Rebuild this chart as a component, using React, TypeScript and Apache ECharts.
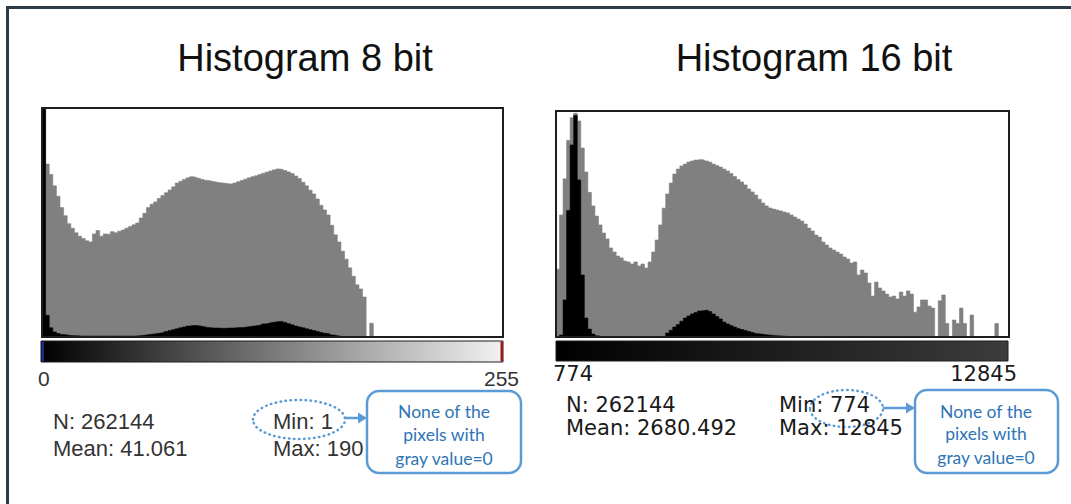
import React, { useEffect, useRef } from "react";
import * as echarts from "echarts";

// ---- data (bar heights in % of plot height, 128 bins each) ----
const LEFT_GRAY = [
  100, 75.5, 71, 66, 61.5, 56.5, 53, 49.5, 47.5, 45.5,
  44, 43, 42, 41.5, 45, 46.5, 44, 45, 44.8, 46,
  45.5, 46.2, 46.7, 47.5, 48.2, 49, 49.8, 52, 54, 56.5,
  58, 59, 60.5, 61.8, 63, 64.2, 65.6, 67.2, 68, 68.8,
  69.5, 70, 69.7, 69.3, 68.8, 68.4, 68.1, 67.8, 67.5, 67.3,
  67.1, 66.9, 66.7, 67.2, 67.8, 68.3, 68.9, 69.5, 70, 70.4,
  71, 71.5, 72, 72.5, 73, 73.4, 73.1, 72.7, 72.1, 71.4,
  70.3, 69.2, 67.6, 66, 64.1, 62.5, 60.3, 57.5, 55.5, 53.3,
  48.8, 44.6, 41.5, 37.5, 34, 30.2, 26.5, 22.8, 21, 17.5,
  0, 6, 0, 0, 0, 0, 0, 0, 0, 0,
  0, 0, 0, 0, 0, 0, 0, 0, 0, 0,
  0, 0, 0, 0, 0, 0, 0, 0, 0, 0,
  0, 0, 0, 0, 0, 0, 0, 0,
];
const LEFT_BLACK = [
  100, 9.5, 4, 2.2, 1.5, 1.1, 0.9, 0.7, 0.6, 0.5,
  0.4, 0.4, 0.4, 0.4, 0.4, 0.4, 0.4, 0.4, 0.4, 0.4,
  0.4, 0.4, 0.4, 0.4, 0.4, 0.4, 0.5, 0.7, 0.9, 1.1,
  1.3, 1.5, 1.7, 2, 2.4, 2.8, 3.2, 3.6, 4, 4.4,
  4.8, 5, 5, 4.8, 4.5, 4.2, 4, 3.9, 3.9, 3.8,
  3.8, 3.9, 3.9, 4, 4.1, 4.2, 4.4, 4.6, 4.8, 5,
  5.3, 5.7, 6, 6.3, 6.6, 6.8, 6.7, 6.3, 5.8, 5.3,
  4.8, 4.4, 4, 3.6, 3.2, 2.8, 2.4, 2, 1.6, 1.3,
  0.9, 0.6, 0.3, 0.1, 0, 0, 0, 0, 0, 0,
  0, 0, 0, 0, 0, 0, 0, 0, 0, 0,
  0, 0, 0, 0, 0, 0, 0, 0, 0, 0,
  0, 0, 0, 0, 0, 0, 0, 0, 0, 0,
  0, 0, 0, 0, 0, 0, 0, 0,
];
const RIGHT_GRAY = [
  30, 54, 70, 87, 97, 99, 95.6, 83.6, 73, 64,
  58, 53.5, 49.6, 46, 43.4, 39.4, 37.6, 35.8, 35, 33.6,
  33.2, 32.3, 33.2, 31.4, 32.3, 30.5, 33.2, 37.6, 42.9, 49.6,
  57, 63.3, 68.1, 72.1, 74.3, 75.7, 76.5, 77.4, 77.9, 78.3,
  78.5, 78.3, 77.9, 77.4, 76.5, 75.9, 75.2, 74.3, 73.5, 72.3,
  71, 69.7, 68.6, 67.3, 65.5, 64.2, 62.8, 61, 59.3, 58,
  57.1, 56.6, 56.2, 55.8, 55.3, 54.9, 54, 53.1, 52.2, 51.3,
  50, 48.2, 46.9, 45.1, 44.2, 42, 40.7, 39.4, 38.5, 37.6,
  36.7, 35.4, 34.5, 32.7, 33.2, 27.4, 29.6, 28.3, 23.9, 18.1,
  24.3, 21.7, 20.4, 19, 17.7, 18.1, 16.8, 19.9, 18.1, 20.4,
  19, 11, 13.3, 16.4, 16.4, 13.7, 12.8, 0, 16, 18.6,
  6, 0, 7.5, 6, 12.8, 6, 0, 9.7, 0, 0,
  0, 0, 0, 0, 6, 0, 0, 0,
];
const RIGHT_BLACK = [
  0, 0.9, 16.4, 56, 85, 98, 69.5, 27.4, 8.4, 3.5,
  1.3, 0.5, 0.2, 0, 0, 0, 0, 0, 0, 0,
  0, 0, 0, 0, 0, 0, 0, 0, 0, 0,
  0.3, 1.8, 3, 4.4, 5.5, 7, 8.4, 9.3, 10.2, 10.8,
  11.5, 11.7, 11.9, 11.3, 10.2, 9.1, 8, 6.6, 5.8, 5.1,
  4.4, 3.8, 3.3, 2.9, 2.4, 2, 1.5, 1.3, 1.1, 0.9,
  0.8, 0.6, 0.5, 0.4, 0.3, 0.2, 0, 0, 0, 0,
  0, 0, 0, 0, 0, 0, 0, 0, 0, 0,
  0, 0, 0, 0, 0, 0, 0, 0, 0, 0,
  0, 0, 0, 0, 0, 0, 0, 0, 0, 0,
  0, 0, 0, 0, 0, 0, 0, 0, 0, 0,
  0, 0, 0, 0, 0, 0, 0, 0, 0, 0,
  0, 0, 0, 0, 0, 0, 0, 0,
];

const TITLES = ["Histogram 8 bit", "Histogram 16 bit"];
const LEFT_RANGE = ["0", "255"];
const RIGHT_RANGE = ["774", "12845"];
const LEFT_STATS = ["N: 262144", "Mean: 41.061", "Min: 1", "Max: 190"];
const RIGHT_STATS = ["N: 262144", "Mean: 2680.492", "Min: 774", "Max: 12845"];
const NOTE_LINES = ["None of the", "pixels with", "gray value=0"];

const BLUE = "#5b9bd5";
const NOTE_TEXT = "#2e75b6";

export default function App() {
  const ref = useRef<HTMLDivElement>(null);

  useEffect(() => {
    document.body.style.margin = "0";
    const chart = echarts.init(ref.current!, null, { renderer: "svg" });

    const arial = '"Liberation Sans", Arial, sans-serif';
    const dejavu = '"DejaVu Sans", Verdana, sans-serif';
    const lato = 'Lato, "Open Sans", sans-serif';

    const txt = (text: string, x: number, y: number, size: number, family: string, fill: string, align = "left") => ({
      type: "text",
      x,
      y,
      z: 100,
      silent: true,
      style: { text, fontSize: size, fontFamily: family, fill, textAlign: align, textVerticalAlign: "middle" },
    });

    const frame = (x: number, y: number, w: number, h: number) => ({
      type: "rect",
      z: 60,
      silent: true,
      shape: { x, y, width: w, height: h },
      style: { fill: "transparent", stroke: "#1e1e1e", lineWidth: 2 },
    });

    const note = (x: number, y: number, w: number, h: number, cx: number, ys: number[]) => [
      {
        type: "rect",
        z: 90,
        silent: true,
        shape: { x, y, width: w, height: h, r: 12 },
        style: { fill: "#ffffff", stroke: BLUE, lineWidth: 2.5 },
      },
      ...NOTE_LINES.map((t, i) => txt(t, cx, ys[i], 17.5, lato, NOTE_TEXT, "center")),
    ];

    const arrow = (x1: number, x2: number, y: number) => [
      {
        type: "line",
        z: 95,
        silent: true,
        shape: { x1, y1: y, x2: x2 - 7, y2: y },
        style: { stroke: BLUE, lineWidth: 2.5 },
      },
      {
        type: "polygon",
        z: 95,
        silent: true,
        shape: { points: [[x2 - 9, y - 5.5], [x2, y], [x2 - 9, y + 5.5]] },
        style: { fill: BLUE },
      },
    ];

    const ellipse = (cx: number, cy: number, rx: number, ry: number) => ({
      type: "ellipse",
      z: 95,
      silent: true,
      shape: { cx, cy, rx, ry },
      style: { fill: "transparent", stroke: BLUE, lineWidth: 2.5, lineDash: [0.5, 4.5], lineCap: "round" },
    });

    // histogram as a stepped filled area: bin i spans [i, i+1] on a value axis
    const hist = (axis: number, data: number[], color: string, z: number) => ({
      type: "line",
      xAxisIndex: axis,
      yAxisIndex: axis,
      data: data.map((v, i) => [i, v]),
      step: "end",
      showSymbol: false,
      symbol: "none",
      z,
      lineStyle: { color, width: 0.6 },
      areaStyle: { color, opacity: 1, origin: "start" },
      silent: true,
    });

    chart.setOption({
      animation: false,
      backgroundColor: "#ffffff",
      grid: [
        { left: 42, top: 108, width: 461, height: 229 },
        { left: 556, top: 111, width: 453, height: 226 },
      ],
      xAxis: [
        { type: "value", gridIndex: 0, min: 0, max: LEFT_GRAY.length, show: false, splitLine: { show: false } },
        { type: "value", gridIndex: 1, min: 0, max: RIGHT_GRAY.length, show: false, splitLine: { show: false } },
      ],
      yAxis: [
        { type: "value", gridIndex: 0, min: 0, max: 100, show: false, splitLine: { show: false } },
        { type: "value", gridIndex: 1, min: 0, max: 100, show: false, splitLine: { show: false } },
      ],
      series: [
        hist(0, LEFT_GRAY, "#808080", 2),
        hist(0, LEFT_BLACK, "#000000", 3),
        hist(1, RIGHT_GRAY, "#808080", 2),
        hist(1, RIGHT_BLACK, "#000000", 3),
      ],
      graphic: [
        // outer frame
        {
          type: "rect",
          z: 10,
          silent: true,
          shape: { x: 7.5, y: 7.5, width: 1120, height: 530 },
          style: { fill: "transparent", stroke: "#2b3b47", lineWidth: 3 },
        },
        // titles
        txt(TITLES[0], 305, 58, 38, arial, "#111111", "center"),
        txt(TITLES[1], 814, 58, 38, arial, "#111111", "center"),
        // plot frames
        frame(42, 108, 461, 229),
        frame(556, 111, 453, 226),
        // LUT bars
        {
          type: "rect",
          z: 60,
          silent: true,
          shape: { x: 41, y: 341, width: 462, height: 21 },
          style: {
            fill: new echarts.graphic.LinearGradient(0, 0, 1, 0, [
              { offset: 0, color: "#000000" },
              { offset: 1, color: "#f2f2f2" },
            ]),
            stroke: "#1e1e1e",
            lineWidth: 1,
          },
        },
        { type: "rect", z: 61, silent: true, shape: { x: 41.5, y: 341.5, width: 2.5, height: 20 }, style: { fill: "#1c2a8c" } },
        { type: "rect", z: 61, silent: true, shape: { x: 500.5, y: 341.5, width: 2.5, height: 20 }, style: { fill: "#a01818" } },
        {
          type: "rect",
          z: 60,
          silent: true,
          shape: { x: 556, y: 341, width: 452, height: 20 },
          style: {
            fill: new echarts.graphic.LinearGradient(0, 0, 1, 0, [
              { offset: 0, color: "#000000" },
              { offset: 1, color: "#3c3c3c" },
            ]),
            stroke: "#1e1e1e",
            lineWidth: 1,
          },
        },
        // range labels
        txt(LEFT_RANGE[0], 38, 378, 21, arial, "#333333", "left"),
        txt(LEFT_RANGE[1], 519, 378, 21, arial, "#333333", "right"),
        txt(RIGHT_RANGE[0], 553, 374, 21, dejavu, "#1a1a1a", "left"),
        txt(RIGHT_RANGE[1], 1017, 374, 21, dejavu, "#1a1a1a", "right"),
        // stats
        txt(LEFT_STATS[0], 53, 421, 22, arial, "#333333"),
        txt(LEFT_STATS[1], 53, 448, 22, arial, "#333333"),
        txt(LEFT_STATS[2], 273, 421, 22, arial, "#333333"),
        txt(LEFT_STATS[3], 273, 448, 22, arial, "#333333"),
        txt(RIGHT_STATS[0], 566, 405, 21, dejavu, "#1a1a1a"),
        txt(RIGHT_STATS[1], 566, 428, 21, dejavu, "#1a1a1a"),
        txt(RIGHT_STATS[2], 779, 405, 21, dejavu, "#1a1a1a"),
        txt(RIGHT_STATS[3], 779, 428, 21, dejavu, "#1a1a1a"),
        // annotations
        ellipse(299, 419.5, 46, 19.5),
        ...arrow(345, 367, 418),
        ...note(367, 391, 154, 82, 444, [411, 434, 458]),
        ellipse(846.5, 408.5, 36.5, 18.5),
        ...arrow(883, 915, 408),
        ...note(915, 390, 143, 83, 986, [411, 433, 457]),
      ],
    });

    return () => chart.dispose();
  }, []);

  return <div ref={ref} style={{ position: "absolute", left: 0, top: 0, width: 1071, height: 504 }} />;
}
